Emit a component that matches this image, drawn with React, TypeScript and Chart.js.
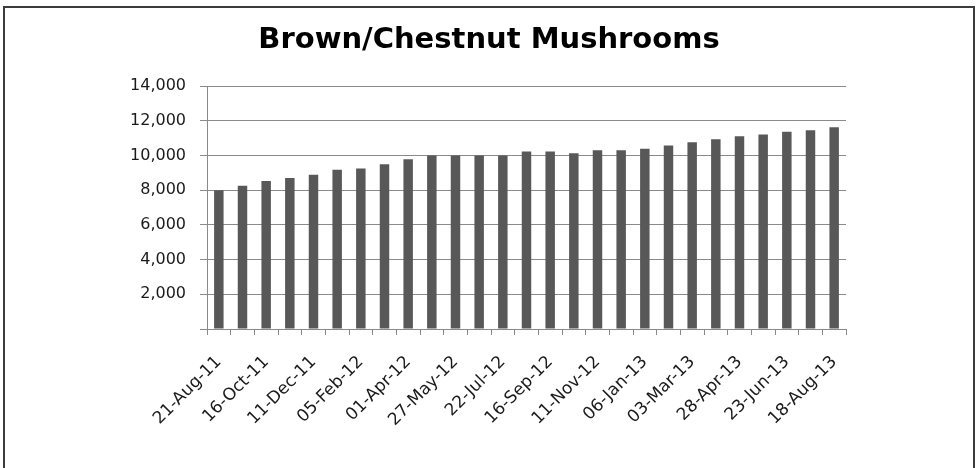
import React, { useEffect, useRef } from "react";
import { Chart, registerables } from "chart.js";

Chart.register(...registerables);

// Four-weekly reporting periods
const periods: string[] = [
  "21-Aug-11", "18-Sep-11", "16-Oct-11", "13-Nov-11", "11-Dec-11", "08-Jan-12",
  "05-Feb-12", "04-Mar-12", "01-Apr-12", "29-Apr-12", "27-May-12", "24-Jun-12",
  "22-Jul-12", "19-Aug-12", "16-Sep-12", "14-Oct-12", "11-Nov-12", "09-Dec-12",
  "06-Jan-13", "03-Feb-13", "03-Mar-13", "31-Mar-13", "28-Apr-13", "26-May-13",
  "23-Jun-13", "21-Jul-13", "18-Aug-13",
];

// Volume per period
const volumes: number[] = [
  7990, 8260, 8530, 8700, 8880, 9170, 9240, 9490, 9780, 9990, 10000, 10000,
  10000, 10220, 10220, 10120, 10300, 10300, 10390, 10570, 10760, 10930, 11100,
  11200, 11370, 11450, 11620,
];

const yMin = 0;
const yMax = 14000;
const yStep = 2000;

const chartTitle = "Brown/Chestnut Mushrooms";

const W = 978;
const H = 468;

// Title centred on the whole canvas (not just the plot area)
const canvasTitle = {
  id: "canvasTitle",
  afterDraw(chart: any) {
    const ctx = chart.ctx;
    ctx.save();
    ctx.font = "bold 29px 'DejaVu Sans', sans-serif";
    ctx.fillStyle = "#000";
    ctx.textAlign = "center";
    ctx.textBaseline = "alphabetic";
    ctx.fillText(chartTitle, chart.width / 2, 48);
    ctx.restore();
  },
};

export default function App() {
  const canvasRef = useRef<HTMLCanvasElement | null>(null);

  useEffect(() => {
    if (!canvasRef.current) return;
    const chart = new Chart(canvasRef.current, {
      type: "bar",
      data: {
        labels: periods,
        datasets: [
          {
            data: volumes,
            backgroundColor: "#585858",
            borderWidth: 0,
            barPercentage: 0.4,
            categoryPercentage: 1,
          },
        ],
      },
      plugins: [canvasTitle],
      options: {
        responsive: false,
        animation: false,
        devicePixelRatio: 1,
        layout: { padding: { left: 0, right: 132, top: 86, bottom: 0 } },
        plugins: {
          legend: { display: false },
          tooltip: { enabled: false },
          title: { display: false },
        },
        scales: {
          x: {
            offset: true,
            grid: {
              offset: true,
              drawOnChartArea: false,
              drawTicks: true,
              tickLength: 6,
              color: "#8a8a8a",
            },
            border: { display: true, color: "#8a8a8a" },
            ticks: {
              autoSkip: false,
              maxRotation: 45,
              minRotation: 45,
              color: "#1a1a1a",
              font: { family: "'DejaVu Sans', sans-serif", size: 17 },
              padding: 17,
              callback: (_v: any, i: number) => (i % 2 === 0 ? periods[i] : ""),
            },
            afterFit: (scale: any) => {
              scale.height = H - 329;
            },
          },
          y: {
            min: yMin,
            max: yMax,
            grid: { color: "#8a8a8a", tickLength: 7 },
            border: { display: true, color: "#8a8a8a" },
            ticks: {
              stepSize: yStep,
              color: "#1a1a1a",
              font: { family: "'DejaVu Sans', sans-serif", size: 16 },
              padding: 14,
              callback: (v: any) => (Number(v) === 0 ? "" : Number(v).toLocaleString("en-US")),
            },
            afterFit: (scale: any) => {
              scale.width = 207;
            },
          },
        },
      },
    });
    return () => chart.destroy();
  }, []);

  return (
    <div
      style={{
        position: "fixed",
        left: 0,
        top: 0,
        width: W,
        height: H,
        overflow: "hidden",
        background: "#fff",
      }}
    >
      <div
        style={{
          position: "absolute",
          left: 3,
          top: 6,
          width: 968,
          height: 500,
          border: "2px solid #3c3c3c",
        }}
      />
      <canvas
        ref={canvasRef}
        width={W}
        height={H}
        style={{ position: "absolute", left: 0, top: 0, width: W, height: H }}
      />
    </div>
  );
}
